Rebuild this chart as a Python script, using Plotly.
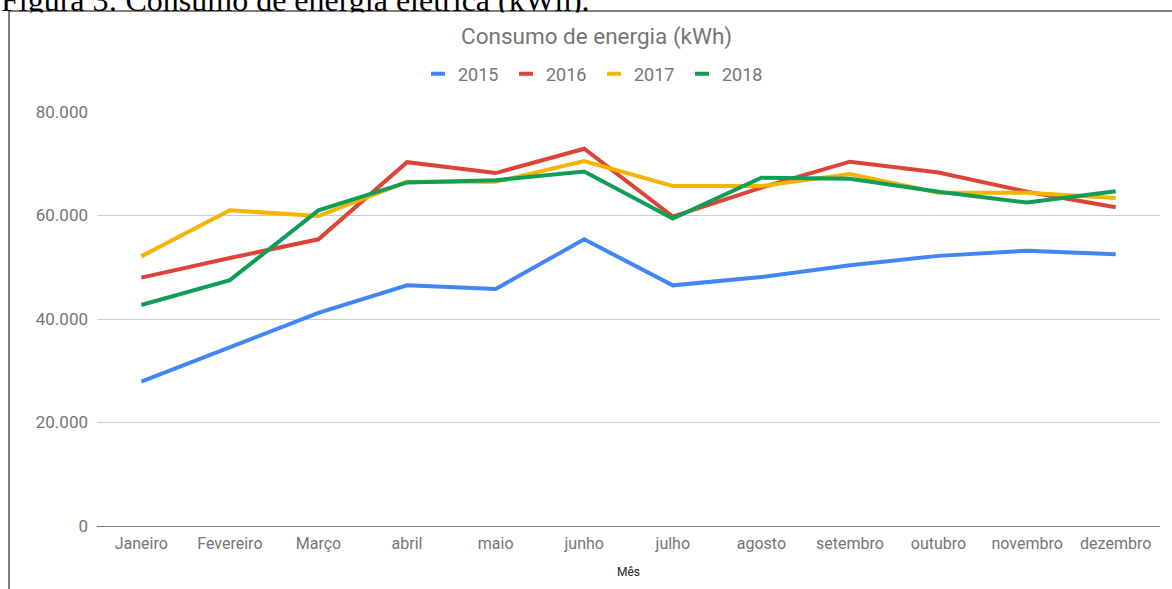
import plotly.graph_objects as go

meses = ["Janeiro", "Fevereiro", "Março", "abril", "maio", "junho",
         "julho", "agosto", "setembro", "outubro", "novembro", "dezembro"]
anos = ["2015", "2016", "2017", "2018"]
consumo_2015 = [27900, 34500, 41200, 46500, 45800, 55400, 46500, 48100, 50400, 52200, 53200, 52500]
consumo_2016 = [48000, 51800, 55400, 70300, 68200, 72900, 59800, 65400, 70400, 68300, 64600, 61600]
consumo_2017 = [52100, 61000, 59900, 66500, 66500, 70500, 65700, 65700, 68000, 64400, 64400, 63400]
consumo_2018 = [42700, 47500, 61000, 66400, 66800, 68500, 59400, 67300, 67100, 64600, 62500, 64700]
series = [consumo_2015, consumo_2016, consumo_2017, consumo_2018]
cores = ["#4285F4", "#DB4437", "#F4B400", "#0F9D58"]

W, H = 1172, 589
L, R, T, B = 97, 12, 112, 63
pw, ph = W - L - R, H - T - B


def px_x(p):
    return (p - L) / pw


def px_y(p):
    return (H - B - p) / ph


fig = go.Figure()
for ano, vals, cor in zip(anos, series, cores):
    fig.add_trace(go.Scatter(x=meses, y=vals, mode="lines", name=ano,
                             line=dict(color=cor, width=4), showlegend=False,
                             hoverinfo="x+y+name"))
# legend entries with short dashes like the original
for ano, cor in zip(anos, cores):
    fig.add_trace(go.Scatter(x=[None], y=[None], mode="markers", name=ano,
                             marker=dict(symbol="line-ew", size=10, color=cor,
                                         line=dict(width=4, color=cor))))

fig.update_layout(
    width=W, height=H,
    margin=dict(l=L, r=R, t=T, b=B),
    paper_bgcolor="white", plot_bgcolor="white",
    separators=",.",
    font=dict(family="Roboto", color="#757575"),
    showlegend=True,
    legend=dict(orientation="h", x=px_x(418), xanchor="left",
                y=px_y(74), yanchor="middle",
                font=dict(size=18, color="#757575"),
                entrywidth=43, entrywidthmode="pixels"),
)
fig.update_xaxes(showgrid=False, showline=False, ticks="",
                 tickfont=dict(size=16, color="#757575"),
                 ticklabelstandoff=6, range=[-0.5, 11.5])
fig.update_yaxes(range=[0, 80000], dtick=20000, tickformat=",d",
                 gridcolor="#cccccc", gridwidth=1,
                 zeroline=True, zerolinecolor="#7a7a7a", zerolinewidth=1.3,
                 showline=False, ticks="",
                 tickfont=dict(size=17, color="#757575"),
                 ticklabelstandoff=8)

# frame of the embedded chart image
fig.add_shape(type="rect", xref="paper", yref="paper",
              x0=px_x(9), x1=px_x(1185), y0=px_y(620), y1=px_y(11),
              line=dict(color="#555555", width=1.5), layer="below")

fig.add_annotation(text="Figura 3: Consumo de energia elétrica (kWh).",
                   xref="paper", yref="paper", x=px_x(-1), y=px_y(0),
                   xanchor="left", yanchor="middle", showarrow=False,
                   font=dict(family="Liberation Serif", size=32, color="black"))
# the chart image covers the lower part of the caption
fig.add_annotation(text=" ", xref="paper", yref="paper",
                   x=px_x(10), y=px_y(12), xanchor="left", yanchor="top",
                   width=1170, height=14, bgcolor="white", borderpad=0,
                   showarrow=False)
fig.add_annotation(text="Consumo de energia (kWh)", xref="paper", yref="paper",
                   x=px_x(596), y=px_y(36), xanchor="center", yanchor="middle",
                   showarrow=False, font=dict(size=22.5, color="#757575"))
fig.add_annotation(text="Mês", xref="paper", yref="paper",
                   x=0.5, y=px_y(572), xanchor="center", yanchor="middle",
                   showarrow=False, font=dict(size=12, color="#222222"))

fig.write_html("out.html", config={"displayModeBar": False},
               post_script="document.body.style.margin='0';document.body.style.overflow='hidden';")
